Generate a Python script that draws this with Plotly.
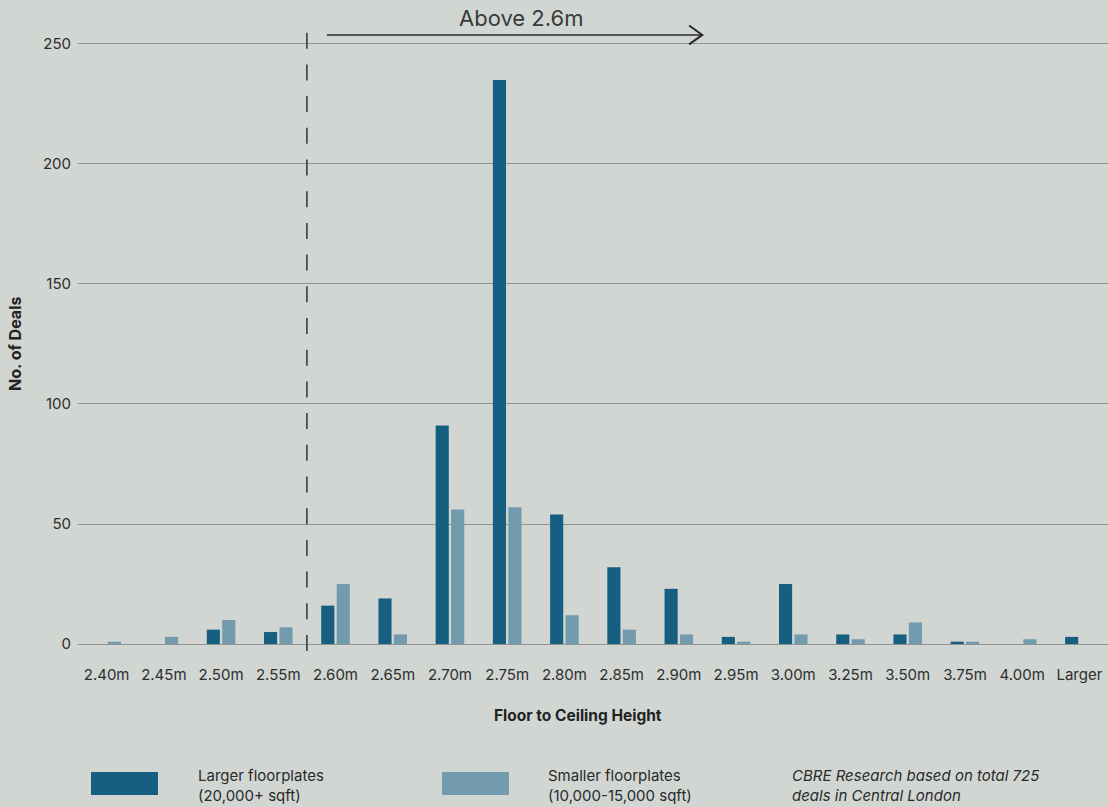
import plotly.graph_objects as go

# Floor-to-ceiling height bands and number of deals per floorplate size
heights = ["2.40m", "2.45m", "2.50m", "2.55m", "2.60m", "2.65m", "2.70m", "2.75m",
           "2.80m", "2.85m", "2.90m", "2.95m", "3.00m", "3.25m", "3.50m", "3.75m",
           "4.00m", "Larger"]
larger_deals = [0, 0, 6, 5, 16, 19, 91, 235, 54, 32, 23, 3, 25, 4, 4, 1, 0, 3]
smaller_deals = [1, 3, 10, 7, 25, 4, 56, 57, 12, 6, 4, 1, 4, 2, 9, 1, 2, 0]
y_ticks = [0, 50, 100, 150, 200, 250]

BG = "#d1d6d3"
DARK = "#165f80"
LIGHT = "#739bae"
GRID = "#8f9492"
TEXT = "#2e2e2e"
FONT = "Inter"

# Plot-area geometry in pixels (used to place paper-referenced decorations)
PLOT_L, PLOT_R, PLOT_T, PLOT_B = 78, 1108, 0, 651


def px_x(x):
    return (x - PLOT_L) / (PLOT_R - PLOT_L)


def px_y(y):
    return (PLOT_B - y) / (PLOT_B - PLOT_T)


fig = go.Figure()
fig.add_trace(go.Bar(x=heights, y=larger_deals, name="Larger floorplates",
                     marker=dict(color=DARK, line=dict(width=0))))
fig.add_trace(go.Bar(x=heights, y=smaller_deals, name="Smaller floorplates",
                     marker=dict(color=LIGHT, line=dict(width=0))))

fig.update_layout(
    width=1108, height=807,
    margin=dict(l=PLOT_L, r=1108 - PLOT_R, t=PLOT_T, b=807 - PLOT_B),
    paper_bgcolor=BG, plot_bgcolor=BG,
    barmode="group", bargap=0.46, bargroupgap=0.15,
    showlegend=False,
    font=dict(family=FONT, color=TEXT, size=15),
)
fig.update_xaxes(type="category", showgrid=False, zeroline=False, showline=False,
                 ticks="", tickfont=dict(size=15, color=TEXT, family=FONT),
                 ticklabelstandoff=13)
fig.update_yaxes(range=[-2.9, 268.3], tickvals=y_ticks, showgrid=True,
                 gridcolor=GRID, gridwidth=1, zeroline=True, zerolinecolor=GRID,
                 zerolinewidth=1, showline=False, ticks="",
                 tickfont=dict(size=15, color=TEXT, family=FONT),
                 ticklabelstandoff=6)

# Dashed divider between 2.55m and 2.60m
fig.add_shape(type="line", xref="x", yref="y", x0=3.5, x1=3.5, y0=-2.9, y1=255,
              line=dict(color="#333333", width=1.5, dash="16px,15.7px"))

# "Above 2.6m" arrow
fig.add_shape(type="line", xref="x", yref="y", x0=3.85, x1=10.41, y0=253.75, y1=253.75,
              line=dict(color="#2a2a2a", width=1.5))
fig.add_shape(type="path", xref="x", yref="y",
              path="M 10.18,257.7 L 10.41,253.75 L 10.18,249.8",
              line=dict(color="#2a2a2a", width=2))
fig.add_annotation(x=7.25, y=260.6, xref="x", yref="y", text="Above 2.6m",
                   showarrow=False, font=dict(size=22, color="#3a3a3a", family=FONT))

# Axis titles
fig.add_annotation(x=px_x(15), y=px_y(344), xref="paper", yref="paper",
                   text="<b>No. of Deals</b>", showarrow=False, textangle=-90,
                   xanchor="center", yanchor="middle",
                   font=dict(size=16, color="#222222", family=FONT))
fig.add_annotation(x=px_x(578), y=px_y(715), xref="paper", yref="paper",
                   text="<b>Floor to Ceiling Height</b>", showarrow=False,
                   xanchor="center", yanchor="middle",
                   font=dict(size=15.5, color="#222222", family=FONT))

# Legend swatches and labels
legend_items = [(91, 158, DARK, 196, "Larger floorplates<br>(20,000+ sqft)"),
                (442, 509, LIGHT, 546, "Smaller floorplates<br>(10,000-15,000 sqft)")]
for x0, x1, color, tx, label in legend_items:
    fig.add_shape(type="rect", xref="paper", yref="paper",
                  x0=px_x(x0), x1=px_x(x1), y0=px_y(795), y1=px_y(772),
                  fillcolor=color, line=dict(width=0))
    fig.add_annotation(x=px_x(tx), y=px_y(785), xref="paper", yref="paper",
                       text=label, showarrow=False, xanchor="left", yanchor="middle",
                       align="left", font=dict(size=15, color="#2a2a2a", family=FONT))

fig.add_annotation(x=px_x(790), y=px_y(785), xref="paper", yref="paper",
                   text="<i>CBRE Research based on total 725<br>deals in Central London</i>",
                   showarrow=False, xanchor="left", yanchor="middle", align="left",
                   font=dict(size=15, color="#2a2a2a", family=FONT))

fig.write_html("out.html")
